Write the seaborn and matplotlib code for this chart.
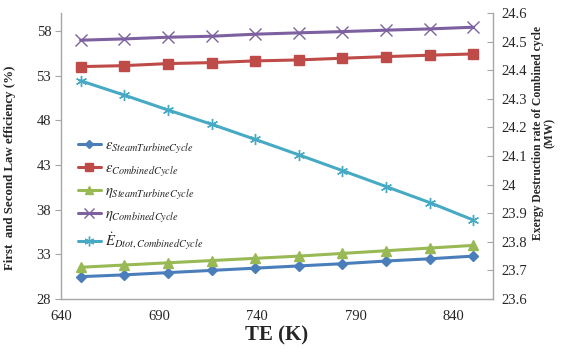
import matplotlib
matplotlib.use("Agg")
import matplotlib.pyplot as plt
import seaborn as sns
import pandas as pd
from matplotlib.lines import Line2D

# Turbine entry temperature (K)
te = [650, 672.2, 694.4, 716.7, 738.9, 761.1, 783.3, 805.6, 827.8, 850]

# Efficiencies (%)
eps_steam = [30.5, 30.7, 30.95, 31.2, 31.45, 31.7, 31.95, 32.25, 32.5, 32.8]
eps_comb = [54.0, 54.11, 54.34, 54.45, 54.64, 54.75, 54.94, 55.12, 55.28, 55.42]
eta_steam = [31.55, 31.8, 32.05, 32.3, 32.55, 32.8, 33.1, 33.4, 33.7, 34.0]
eta_comb = [56.96, 57.1, 57.29, 57.4, 57.63, 57.78, 57.92, 58.08, 58.22, 58.41]

# Exergy destruction rate of the combined cycle (MW)
ed_comb = [24.363, 24.313, 24.261, 24.211, 24.158, 24.104, 24.049, 23.993, 23.937, 23.876]

left_ticks = [28, 33, 38, 43, 48, 53, 58]
right_ticks = [23.6, 23.7, 23.8, 23.9, 24.0, 24.1, 24.2, 24.3, 24.4, 24.5, 24.6]
right_labels = ["23.6", "23.7", "23.8", "23.9", "24", "24.1", "24.2", "24.3", "24.4", "24.5", "24.6"]
x_ticks = [640, 690, 740, 790, 840]

labels = [
    r"$\varepsilon_{SteamTurbineCycle}$",
    r"$\varepsilon_{CombinedCycle}$",
    r"$\eta_{SteamTurbineCycle}$",
    r"$\eta_{CombinedCycle}$",
    r"$\dot{E}_{Dtot,CombinedCycle}$",
]

sns.set_style("white")
plt.rcParams["font.family"] = ["Liberation Serif", "DejaVu Serif"]
plt.rcParams["mathtext.fontset"] = "stix"

colors = ["#4A7EBB", "#BE4B48", "#98B954", "#7D60A0", "#46AAC5"]
markers = ["D", "s", "^", "x", (6, 2, 0)]
msizes = [5, 7, 7, 8, 8]

fig = plt.figure(figsize=(5.63, 3.53), dpi=100)
ax = fig.add_axes([61 / 563, 1 - 299 / 353, 432 / 563, 286 / 353])
ax2 = ax.twinx()

df = pd.DataFrame({"TE": te, "eps_steam": eps_steam, "eps_comb": eps_comb,
                   "eta_steam": eta_steam, "eta_comb": eta_comb, "ed_comb": ed_comb})

left_cols = ["eps_steam", "eps_comb", "eta_steam", "eta_comb"]
for i, col in enumerate(left_cols):
    sns.lineplot(data=df, x="TE", y=col, ax=ax, color=colors[i], marker=markers[i],
                 markersize=msizes[i], linewidth=2.2, markeredgecolor=colors[i],
                 markeredgewidth=1.0, zorder=3)
sns.lineplot(data=df, x="TE", y="ed_comb", ax=ax2, color=colors[4], marker=markers[4],
             markersize=msizes[4], linewidth=2.2, markeredgecolor=colors[4],
             markeredgewidth=1.0)

ax.set_xlim(640, 860)
ax.set_ylim(28, 60)
ax2.set_ylim(23.6, 24.6)
ax.set_xticks(x_ticks)
ax.set_yticks(left_ticks)
ax2.set_yticks(right_ticks)
ax2.set_yticklabels(right_labels)

spine_c = "#A6A6A6"
for a in (ax, ax2):
    a.spines["top"].set_visible(False)
    for s in ("left", "right", "bottom"):
        a.spines[s].set_color(spine_c)
        a.spines[s].set_linewidth(1.0)
ax.spines["right"].set_visible(False)
ax2.spines["left"].set_visible(False)
ax2.spines["bottom"].set_visible(False)

ax.tick_params(axis="y", direction="out", length=4, color=spine_c, labelsize=10.5, pad=3)
ax.tick_params(axis="x", direction="out", length=4, color=spine_c, labelsize=10.5, pad=4)
ax2.tick_params(axis="y", direction="in", length=4, color=spine_c, labelsize=10.5, pad=6)

ax.set_xlabel("TE (K)", fontsize=15, fontweight="bold", labelpad=2)
ax.set_ylabel("First  and Second Law efficiency (%)", fontsize=9.3, fontweight="bold")
ax.yaxis.set_label_coords(-0.105, 0.46)
ax2.set_ylabel("Exergy Destruction rate of Combined cycle\n(MW)", fontsize=8.4,
               fontweight="bold", linespacing=1.0, rotation=90)
ax2.yaxis.set_label_coords(1.09, 0.58)

handles = [Line2D([0], [0], color=colors[i], marker=markers[i], markersize=msizes[i] - 1,
                  linewidth=2.2, markeredgecolor=colors[i]) for i in range(5)]
leg = ax.legend(handles, labels, loc="upper left", bbox_to_anchor=(0.025, 0.58),
                frameon=False, fontsize=10.5, handlelength=1.6, handletextpad=0.3,
                labelspacing=0.45, borderaxespad=0)

fig.savefig("out.png", dpi=100)
